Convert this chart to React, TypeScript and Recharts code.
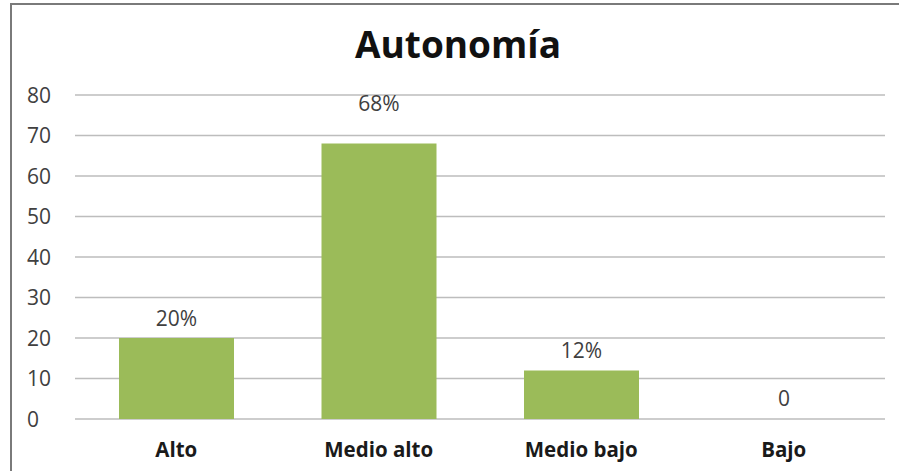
import React from "react";
import { BarChart, Bar, XAxis, YAxis, CartesianGrid, LabelList, Cell } from "recharts";

const categories = ["Alto", "Medio alto", "Medio bajo", "Bajo"];
const values = [20, 68, 12, 0];
const labels = ["20%", "68%", "12%", "0"];
const yTicks = [0, 10, 20, 30, 40, 50, 60, 70, 80];

const data = categories.map((c, i) => ({ name: c, value: values[i], label: labels[i] }));

const FONT = "'Open Sans', 'DejaVu Sans', sans-serif";
const PLOT_TOP = 95;
const MAX_VALUE = Math.max(...values);

const YTick = (props: any) => {
  const { y, payload } = props;
  return (
    <text x={27} y={y} dy={7.5} textAnchor="start" fontSize={21} fill="#404040" fontFamily={FONT}>
      {payload.value}
    </text>
  );
};

const XTick = (props: any) => {
  const { x, y, payload } = props;
  return (
    <text x={x} y={y} dy={30} textAnchor="middle" fontSize={20.5} fontWeight="bold" fill="#1a1a1a" fontFamily={FONT}>
      {payload.value}
    </text>
  );
};

const ValueLabel = (props: any) => {
  const { x, y, width, value, index } = props;
  const isMax = values[index] === MAX_VALUE;
  const ly = isMax ? PLOT_TOP + 16 : Number(y) - 12;
  return (
    <text x={Number(x) + Number(width) / 2} y={ly} textAnchor="middle" fontSize={21} fill="#404040" fontFamily={FONT}>
      {value}
    </text>
  );
};

export default function App() {
  return (
    <div style={{ position: "absolute", left: 0, top: 0, width: 899, height: 471, overflow: "hidden", background: "#fff" }}>
      <div style={{ position: "absolute", left: 10, top: 3, width: 920, height: 500, border: "2px solid #7a7a7a", boxSizing: "border-box" }} />
      <div style={{ position: "absolute", left: 0, top: 18, width: 916, textAlign: "center", fontFamily: FONT, fontWeight: "bold", fontSize: 37, lineHeight: "52px", color: "#111" }}>
        Autonomía
      </div>
      <div style={{ position: "absolute", left: 0, top: 0 }}>
        <BarChart width={899} height={471} data={data} margin={{ top: PLOT_TOP, right: 14, bottom: 0, left: 0 }}>
          <CartesianGrid vertical={false} stroke="#bdbdbd" strokeWidth={1.5} />
          <XAxis dataKey="name" axisLine={false} tickLine={false} height={52} tick={<XTick />} interval={0} />
          <YAxis width={75} domain={[0, 80]} ticks={yTicks} axisLine={false} tickLine={false} tick={<YTick />} interval={0} />
          <Bar dataKey="value" fill="#9bbb59" barSize={115} minPointSize={1} isAnimationActive={false}>
            {data.map((d, i) => (
              <Cell key={i} fill={d.value === 0 ? "transparent" : "#9bbb59"} />
            ))}
            <LabelList dataKey="label" content={<ValueLabel />} />
          </Bar>
        </BarChart>
      </div>
    </div>
  );
}
